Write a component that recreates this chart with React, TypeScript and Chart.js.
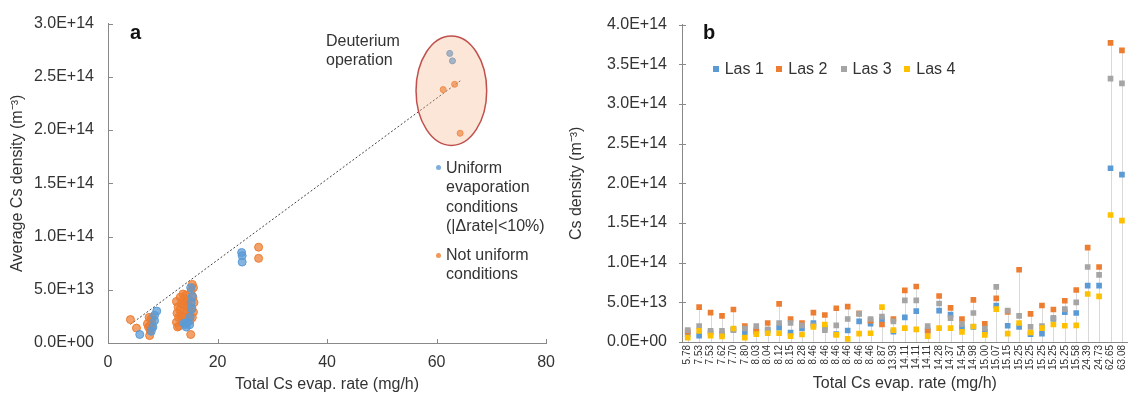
import React, { useEffect, useRef } from "react";
import { Chart, registerables } from "chart.js";
Chart.register(...registerables);

const FONT = '"Liberation Sans", Arial, Helvetica, sans-serif';
const AXIS_COLOR = "#898989";
const TEXT_COLOR = "#333333";
const BLUE = "#5b9bd5";
const ORANGE = "#ed7d31";
const GREY = "#a5a5a5";
const YELLOW = "#ffc000";

// ---------- Panel a data (x: mg/h, y: units of 1e13 m^-3) ----------
const uniformX = [5.8, 7.9, 8.2, 8.5, 8.5, 8.9, 13.9, 14.1, 14.3, 14.5, 14.9, 15.0, 15.3, 15.2, 15.4, 15.1, 24.4, 24.5, 24.5, 62.4, 62.9];
const uniformY = [0.8, 1.1, 1.5, 2.1, 2.6, 3.0, 1.85, 1.74, 1.5, 1.96, 1.71, 2.45, 3.2, 3.8, 4.4, 5.2, 8.5, 8.2, 7.6, 27.2, 26.5];

const nonUniformX = [
  4.1, 5.2, 7.6, 7.2, 7.5, 7.8, 8.1, 7.6, 8.0, 7.4, 7.7, 8.0,
  12.5, 12.8, 12.6, 12.9, 12.5, 13.0, 12.7,
  13.2, 13.4, 13.1, 13.3, 13.5,
  13.7, 13.9, 13.8, 14.0, 13.7,
  14.2, 14.1, 14.4, 14.3, 14.5,
  14.7, 14.6, 14.9, 14.8, 15.0,
  15.2, 15.4, 15.6, 15.5, 15.7, 15.3, 15.6, 15.4, 15.1,
  27.5, 27.5, 61.2, 63.3, 64.3,
];
const nonUniformY = [
  2.2, 1.4, 0.7, 1.8, 2.4, 2.2, 2.4, 1.6, 1.9, 1.5, 1.2, 1.5,
  3.9, 3.4, 2.8, 2.4, 1.95, 1.6, 1.5,
  4.3, 3.7, 3.1, 2.6, 2.0,
  4.6, 4.2, 3.6, 3.0, 2.5,
  4.5, 3.9, 3.4, 2.8, 2.3,
  4.1, 3.6, 3.1, 2.6, 2.1,
  4.9, 5.5, 5.2, 4.3, 3.8, 3.3, 2.9, 2.4, 0.8,
  9.0, 7.95, 23.8, 24.3, 19.7,
];

const trendX = [4.1, 64.4];
const trendY = [1.75, 24.65];

// Deuterium operation ellipse (data units)
const deutCenter = { x: 62.7, y: 23.7 };
const deutRadius = { x: 6.45, y: 5.14 };

// ---------- Panel b data (units of 1e13 m^-3) ----------
const rateLabels = [
  "5.78", "7.53", "7.53", "7.62", "7.70", "7.80", "8.03", "8.04", "8.12", "8.15",
  "8.28", "8.46", "8.46", "8.46", "8.46", "8.46", "8.46", "8.87", "13.93", "14.11",
  "14.11", "14.11", "14.28", "14.37", "14.54", "14.98", "15.00", "15.07", "15.15", "15.25",
  "15.25", "15.25", "15.25", "15.25", "15.58", "24.39", "24.73", "62.65", "63.08",
];
const las1 = [1.0, 0.8, 1.2, 1.0, 1.6, 1.25, 1.3, 1.5, 1.8, 1.2, 1.7, 2.4, 1.8, 1.0, 1.45, 2.6, 2.3, 2.8, 1.3, 3.1, 3.9, 1.5, 3.95, 3.45, 1.8, 1.9, 1.3, 4.6, 2.05, 1.9, 1.0, 1.05, 2.9, 3.75, 3.65, 7.1, 7.1, 21.9, 21.1];
const las2 = [1.3, 4.4, 3.7, 3.3, 4.1, 2.0, 1.5, 2.4, 4.8, 2.9, 2.4, 3.7, 3.4, 4.25, 4.45, 3.6, 2.7, 2.2, 2.9, 6.5, 7.0, 1.4, 5.8, 4.3, 2.9, 5.3, 2.3, 5.5, 3.8, 9.1, 3.55, 4.6, 4.1, 5.2, 6.55, 11.9, 9.45, 37.7, 36.75];
const las3 = [1.5, 2.0, 1.4, 1.4, 1.5, 1.7, 2.0, 1.6, 2.4, 2.4, 2.1, 2.1, 1.5, 2.1, 2.9, 3.55, 2.9, 3.2, 2.6, 5.25, 5.25, 2.0, 4.85, 3.0, 2.25, 3.65, 1.7, 6.95, 3.95, 3.3, 1.9, 2.0, 3.05, 4.15, 5.0, 9.45, 8.45, 33.2, 32.6];
const las4 = [0.55, 1.4, 0.8, 0.7, 1.7, 0.55, 1.0, 1.1, 1.1, 0.75, 0.95, 1.9, 2.2, 0.9, 0.4, 1.05, 1.1, 4.4, 1.5, 1.75, 1.6, 0.75, 1.75, 1.75, 1.27, 1.95, 0.9, 4.15, 1.05, 2.4, 1.2, 1.75, 2.2, 2.05, 2.1, 6.05, 5.75, 16.0, 15.3];

const seriesNames = ["Las 1", "Las 2", "Las 3", "Las 4"];
const seriesColors = [BLUE, ORANGE, GREY, YELLOW];
const seriesValues = [las1, las2, las3, las4];

const E13 = 1e13;

function sci(v: number): string {
  if (v === 0) return "0.0E+00";
  const e = Math.floor(Math.log10(Math.abs(v)) + 1e-9);
  const m = v / Math.pow(10, e);
  return m.toFixed(1) + "E+" + String(e).padStart(2, "0");
}

function insideTicksPlugin(opts: { x: boolean; yOut: number; yIn: number; xLen: number }) {
  return {
    id: "insideTicks",
    afterDraw(chart: any) {
      const ctx = chart.ctx;
      const area = chart.chartArea;
      const xs = chart.scales.x;
      const ys = chart.scales.y;
      ctx.save();
      ctx.strokeStyle = AXIS_COLOR;
      ctx.lineWidth = 1;
      for (const t of ys.ticks) {
        const py = Math.round(ys.getPixelForValue(t.value)) + 0.5;
        ctx.beginPath();
        ctx.moveTo(area.left - opts.yOut, py);
        ctx.lineTo(area.left + opts.yIn, py);
        ctx.stroke();
      }
      if (opts.x) {
        for (const t of xs.ticks) {
          const px = Math.round(xs.getPixelForValue(t.value)) + 0.5;
          ctx.beginPath();
          ctx.moveTo(px, area.bottom);
          ctx.lineTo(px, area.bottom - opts.xLen);
          ctx.stroke();
        }
      }
      ctx.restore();
    },
  };
}

const ellipsePlugin = {
  id: "deutEllipse",
  afterDatasetsDraw(chart: any) {
    const ctx = chart.ctx;
    const xs = chart.scales.x;
    const ys = chart.scales.y;
    const cx = xs.getPixelForValue(deutCenter.x);
    const cy = ys.getPixelForValue(deutCenter.y * E13);
    const rx = Math.abs(xs.getPixelForValue(deutCenter.x + deutRadius.x) - cx);
    const ry = Math.abs(ys.getPixelForValue((deutCenter.y + deutRadius.y) * E13) - cy);
    ctx.save();
    ctx.beginPath();
    ctx.ellipse(cx, cy, rx, ry, 0, 0, Math.PI * 2);
    ctx.fillStyle = "rgba(244,177,131,0.32)";
    ctx.fill();
    ctx.lineWidth = 1.5;
    ctx.strokeStyle = "#c0504d";
    ctx.stroke();
    ctx.restore();
  },
};

const dropLinesPlugin = {
  id: "dropLines",
  beforeDatasetsDraw(chart: any) {
    const ctx = chart.ctx;
    const xs = chart.scales.x;
    const ys = chart.scales.y;
    ctx.save();
    ctx.strokeStyle = "#d9d9d9";
    ctx.lineWidth = 1;
    rateLabels.forEach((_, i) => {
      const top = Math.max(las1[i], las2[i], las3[i], las4[i]) * E13;
      const px = Math.round(xs.getPixelForValue(i)) + 0.5;
      ctx.beginPath();
      ctx.moveTo(px, ys.getPixelForValue(top));
      ctx.lineTo(px, ys.getPixelForValue(0));
      ctx.stroke();
    });
    ctx.restore();
  },
};

function PanelA() {
  const ref = useRef<HTMLCanvasElement>(null);
  useEffect(() => {
    const uniform = uniformX.map((x, i) => ({ x, y: uniformY[i] * E13 }));
    const nonUniform = nonUniformX.map((x, i) => ({ x, y: nonUniformY[i] * E13 }));
    const trend = trendX.map((x, i) => ({ x, y: trendY[i] * E13 }));
    const radius = (c: any) => (c.raw && c.raw.x > 50 ? 3 : 4);
    const chart = new Chart(ref.current!, {
      type: "scatter",
      data: {
        datasets: [
          {
            label: "Uniform evaporation conditions (|Δrate|<10%)",
            data: uniform,
            backgroundColor: "rgba(91,155,213,0.75)",
            borderColor: "rgba(91,155,213,1)",
            borderWidth: 1,
            pointRadius: radius,
          },
          {
            label: "Not uniform conditions",
            data: nonUniform,
            backgroundColor: "rgba(237,125,49,0.72)",
            borderColor: "rgba(237,125,49,1)",
            borderWidth: 1,
            pointRadius: radius,
          },
          {
            type: "line",
            label: "trend",
            data: trend,
            showLine: true,
            borderColor: "#444444",
            borderWidth: 1,
            borderDash: [2, 2],
            pointRadius: 0,
            fill: false,
            order: 5,
          } as any,
        ],
      },
      options: {
        animation: false,
        responsive: false,
        devicePixelRatio: 1,
        layout: { padding: { top: 17, right: 15, left: 0, bottom: 0 } },
        plugins: { legend: { display: false }, tooltip: { enabled: false } },
        scales: {
          x: {
            type: "linear",
            min: 0,
            max: 80,
            ticks: { stepSize: 20, color: TEXT_COLOR, font: { family: FONT, size: 16 }, padding: 10 },
            grid: { display: false, drawTicks: false },
            border: { display: true, color: AXIS_COLOR },
            title: { display: true, text: "Total Cs evap. rate (mg/h)", color: TEXT_COLOR, font: { family: FONT, size: 16 }, padding: { top: 0, bottom: 5 } },
            afterFit: (s: any) => { s.height = 56; },
          },
          y: {
            min: 0,
            max: 3e14,
            ticks: { stepSize: 5e13, color: TEXT_COLOR, font: { family: FONT, size: 16 }, padding: 14, callback: (v: any) => sci(Number(v)) },
            grid: { display: false, drawTicks: false },
            border: { display: true, color: AXIS_COLOR },
            title: { display: true, text: "Average Cs density (m⁻³)", color: TEXT_COLOR, font: { family: FONT, size: 16 }, padding: { top: 8, bottom: 0 } },
            afterFit: (s: any) => { s.width = 108; },
          },
        },
      } as any,
      plugins: [ellipsePlugin, insideTicksPlugin({ x: true, yOut: 0, yIn: 5, xLen: 4 })] as any,
    });
    return () => chart.destroy();
  }, []);
  return <canvas ref={ref} width={565} height={399} style={{ position: "absolute", left: 0, top: 0, width: 565, height: 399 }} />;
}

function PanelB() {
  const ref = useRef<HTMLCanvasElement>(null);
  useEffect(() => {
    const chart = new Chart(ref.current!, {
      type: "line",
      data: {
        labels: rateLabels,
        datasets: seriesValues.map((vals, k) => ({
          label: seriesNames[k],
          data: vals.map((v) => v * E13),
          showLine: false,
          pointStyle: "rect",
          pointRadius: 4,
          pointBackgroundColor: seriesColors[k],
          pointBorderColor: seriesColors[k],
          pointBorderWidth: 0,
          borderColor: seriesColors[k],
          backgroundColor: seriesColors[k],
          order: 3 - k,
        })),
      },
      options: {
        animation: false,
        responsive: false,
        devicePixelRatio: 1,
        layout: { padding: { top: 17, right: 1, left: 0, bottom: 0 } },
        plugins: { legend: { display: false }, tooltip: { enabled: false } },
        scales: {
          x: {
            type: "category",
            offset: true,
            ticks: { autoSkip: false, minRotation: 90, maxRotation: 90, color: TEXT_COLOR, font: { family: FONT, size: 10 }, padding: 3 },
            grid: { display: false, drawTicks: false },
            border: { display: true, color: AXIS_COLOR },
            title: { display: true, text: "Total Cs evap. rate (mg/h)", color: TEXT_COLOR, font: { family: FONT, size: 16 }, padding: { top: 0, bottom: 6 } },
            afterFit: (s: any) => { s.height = 57; },
          },
          y: {
            min: 0,
            max: 4e14,
            ticks: { stepSize: 5e13, color: TEXT_COLOR, font: { family: FONT, size: 16 }, padding: 15, callback: (v: any) => sci(Number(v)) },
            grid: { display: false, drawTicks: false },
            border: { display: true, color: AXIS_COLOR },
            title: { display: true, text: "Cs density (m⁻³)", color: TEXT_COLOR, font: { family: FONT, size: 16 }, padding: { top: 2, bottom: 0 } },
            afterFit: (s: any) => { s.width = 117; },
          },
        },
      } as any,
      plugins: [dropLinesPlugin, insideTicksPlugin({ x: false, yOut: 3, yIn: 4, xLen: 0 })] as any,
    });
    return () => chart.destroy();
  }, []);
  return <canvas ref={ref} width={572} height={399} style={{ position: "absolute", left: 565, top: 0, width: 572, height: 399 }} />;
}

const textBase: React.CSSProperties = {
  position: "absolute",
  fontFamily: FONT,
  fontSize: 16,
  color: TEXT_COLOR,
  whiteSpace: "nowrap",
  lineHeight: "19.3px",
};

function Dot({ x, y, color }: { x: number; y: number; color: string }) {
  return <div style={{ position: "absolute", left: x - 2.5, top: y - 2.5, width: 5, height: 5, borderRadius: "50%", background: color }} />;
}

function Sq({ x, y, color }: { x: number; y: number; color: string }) {
  return <div style={{ position: "absolute", left: x - 3, top: y - 3, width: 6, height: 6, background: color }} />;
}

export default function App() {
  const legendBX = [715.7, 779.3, 843.5, 907.3];
  return (
    <div style={{ position: "absolute", left: 0, top: 0, width: 1137, height: 399, background: "#fff", overflow: "hidden" }}>
      <PanelA />
      <PanelB />
      <div style={{ ...textBase, left: 130, top: 22, fontSize: 20, fontWeight: "bold", lineHeight: "20px", color: "#111" }}>a</div>
      <div style={{ ...textBase, left: 326, top: 31, lineHeight: "19px" }}>
        Deuterium
        <br />
        operation
      </div>
      <Dot x={438} y={167} color="rgba(91,155,213,0.8)" />
      <div style={{ ...textBase, left: 446, top: 158 }}>
        Uniform
        <br />
        evaporation
        <br />
        conditions
        <br />
        (|Δrate|&lt;10%)
      </div>
      <Dot x={438} y={255} color="rgba(237,125,49,0.8)" />
      <div style={{ ...textBase, left: 446, top: 245 }}>
        Not uniform
        <br />
        conditions
      </div>
      <div style={{ ...textBase, left: 703, top: 22, fontSize: 20, fontWeight: "bold", lineHeight: "20px", color: "#111" }}>b</div>
      {seriesNames.map((n, k) => (
        <React.Fragment key={n}>
          <Sq x={legendBX[k]} y={69} color={seriesColors[k]} />
          <div style={{ ...textBase, left: legendBX[k] + 9, top: 59 }}>{n}</div>
        </React.Fragment>
      ))}
    </div>
  );
}
